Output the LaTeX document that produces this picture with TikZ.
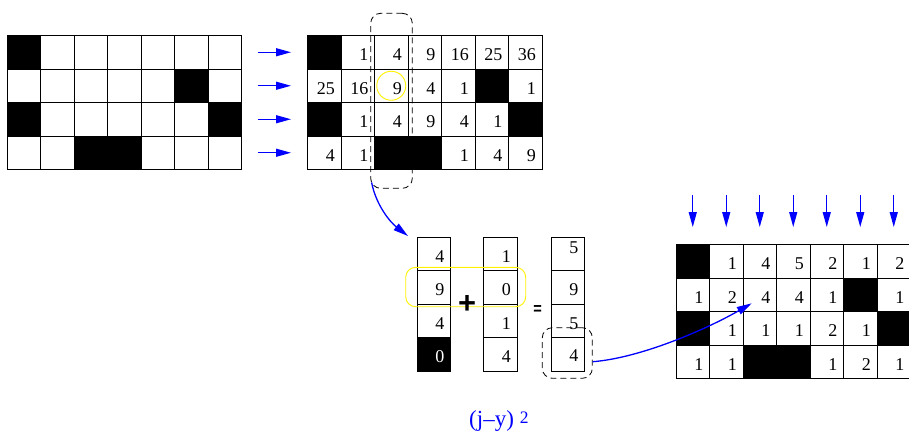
\documentclass[tikz,border=0pt]{standalone}
\usepackage{fontspec}
\setmainfont{Liberation Serif}
\setsansfont{Liberation Sans}
\usepackage{graphicx}
\usetikzlibrary{arrows.meta,calc}
\tikzset{
  cell/.style={draw=black, line width=0.9pt, minimum width=33.5pt, minimum height=33.5pt,
    inner sep=0pt, outer sep=0pt, text width=21pt, align=right, text height=16.5pt,
    text depth=0pt, font=\fontsize{18}{18}\selectfont},
  blk/.style={fill=black, text=white},
  arr/.style={blue, line width=1.3pt, -{Triangle[length=15pt,width=8pt]}},
  dbox/.style={draw=black, dash pattern=on 6pt off 4pt, rounded corners=10pt, line width=0.8pt,
    inner sep=0pt},
  ybox/.style={draw=yellow, line width=0.9pt, inner sep=0pt},
}
\newcommand\mygrid[4]{%
  \foreach \row [count=\r from 0] in {#4} {
    \foreach \v [count=\c from 0] in \row {
      \ifnum\v<0
        \node[cell,blk] (#1-\r-\c) at ({#2+33.5*\c+16.75},{#3+33.5*\r+16.75}) {};
      \else\ifnum\v=0
        \node[cell] (#1-\r-\c) at ({#2+33.5*\c+16.75},{#3+33.5*\r+16.75}) {};
      \else
        \node[cell] (#1-\r-\c) at ({#2+33.5*\c+16.75},{#3+33.5*\r+16.75}) {\v};
      \fi\fi
    }
  }
}
\begin{document}
\begin{tikzpicture}[x=1pt,y=-1pt]
\useasboundingbox (0,0) rectangle (909,432);

% grids
\mygrid{L}{7}{35.5}{{-1,0,0,0,0,0,0},{0,0,0,0,0,-1,0},{-1,0,0,0,0,0,-1},{0,0,-1,-1,0,0,0}}
\mygrid{R}{307.5}{35.5}{{-1,1,4,9,16,25,36},{25,16,9,4,1,-1,1},{-1,1,4,9,4,1,-1},{4,1,-1,-1,1,4,9}}
\mygrid{B}{676}{244.5}{{-1,1,4,5,2,1,2},{1,2,4,4,1,-1,1},{-1,1,1,1,2,1,-1},{1,1,-1,-1,1,2,1}}

% horizontal arrows
\foreach \r in {0,...,3} {
  \coordinate (ha\r) at ($(L-\r-6.east)+(16.5,0)$);
  \coordinate (hb\r) at ($(R-\r-0.west)+(-16.5,0)$);
  \draw[arr] (ha\r) -- (hb\r);
}

% down arrows
\foreach \c in {0,...,6} {
  \coordinate (da\c) at ($(B-0-\c.north)+(0,-49.5)$);
  \coordinate (db\c) at ($(B-0-\c.north)+(0,-17.5)$);
  \draw[arr] (da\c) -- (db\c);
}

% column highlight
\node[dbox, minimum width=41.6pt, minimum height=175pt] (colbox) at (391.5,100.8) {};
\node[ybox, circle, minimum size=29pt] (yc) at (R-1-2) {};

% vectors
\node[cell] (V1-0) at (433.75,253.75) {4};
\node[cell] (V1-1) at (433.75,287.25) {9};
\node[cell] (V1-2) at (433.75,320.75) {4};
\node[cell,blk] (V1-3) at (433.75,354.25) {0};
\node[cell] (V2-0) at (500.25,253.75) {1};
\node[cell] (V2-1) at (500.25,287.25) {0};
\node[cell] (V2-2) at (500.25,320.75) {1};
\node[cell] (V2-3) at (500.25,354.25) {4};
\node[cell, text height=12pt, text depth=13pt] (V3-0) at (567.75,253.75) {5};
\node[cell] (V3-1) at (567.75,287.25) {9};
\node[cell] (V3-2) at (567.75,320.75) {5};
\node[cell, text height=14pt] (V3-3) at (567.75,354.25) {4};

\node[ybox, rounded corners=10pt, minimum width=120pt, minimum height=39.4pt] (yrow) at (465.7,287) {};
\node[inner sep=0pt] (plus) at (467,304) {\resizebox{18pt}{18pt}{\sffamily\bfseries +}};
\node[inner sep=0pt] (eq) at (537.5,309.5) {\resizebox{8.5pt}{9pt}{\sffamily\bfseries =}};

\node[dbox, minimum width=50pt, minimum height=50.6pt] (rbox) at (567.3,353) {};

% curved arrows
\coordinate (s1) at ($(colbox.south west)+(1.3,-6.3)$);
\coordinate (e1) at ($(V1-0.north west)+(-9,-1)$);
\draw[arr] (s1) .. controls (376,205) and (390,222) .. (e1);

\coordinate (s2) at ($(rbox.east)+(0,8.7)$);
\coordinate (e2) at ($(B-1-2.south west)+(8.7,-8.2)$);
\draw[arr] (s2) .. controls (640,358) and (705,330) .. (e2);

% label
\node[blue, anchor=base west, inner sep=0pt] (lab) at (469,426.5)
  {\fontsize{23}{23}\selectfont (j–y)\hspace{6pt}\raisebox{3.5pt}{\fontsize{17.5}{17.5}\selectfont 2}};
\end{tikzpicture}
\end{document}
